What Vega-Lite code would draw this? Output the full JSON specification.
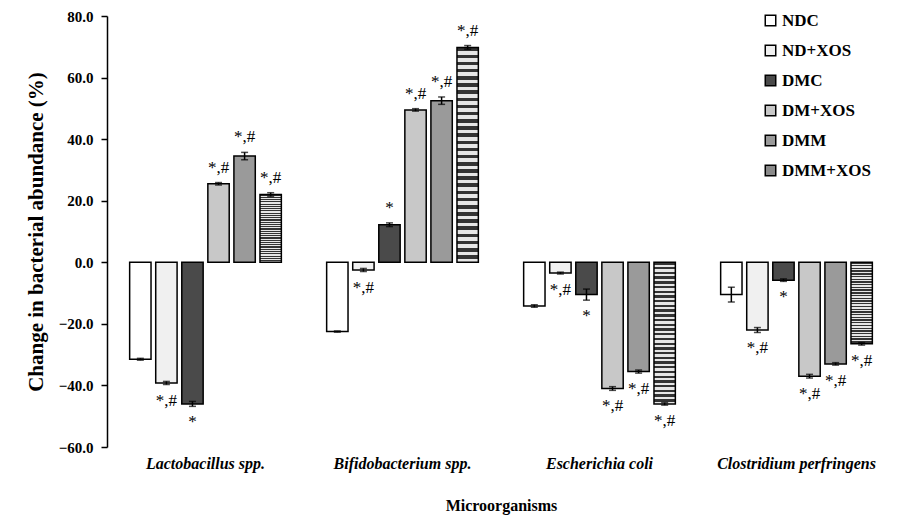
{
  "$schema": "https://vega.github.io/schema/vega-lite/v6.json",
  "width": 788,
  "height": 431,
  "autosize": {"type": "none"},
  "padding": {"left": 107, "top": 16, "right": 4, "bottom": 72},
  "background": "white",
  "config": {"view": {"stroke": null}, "font": "Times New Roman, Liberation Serif, serif"},
  "data": {"values": [
    {"cat": "Lactobacillus spp.", "grp": "NDC", "v": -31.5, "lo": -31.8, "hi": -31.2, "sig": ""},
    {"cat": "Lactobacillus spp.", "grp": "ND+XOS", "v": -39.2, "lo": -39.7, "hi": -38.7, "sig": "*,#"},
    {"cat": "Lactobacillus spp.", "grp": "DMC", "v": -46.0, "lo": -46.8, "hi": -45.2, "sig": "*"},
    {"cat": "Lactobacillus spp.", "grp": "DM+XOS", "v": 25.5, "lo": 25.1, "hi": 25.9, "sig": "*,#"},
    {"cat": "Lactobacillus spp.", "grp": "DMM", "v": 34.5, "lo": 33.3, "hi": 35.7, "sig": "*,#"},
    {"cat": "Lactobacillus spp.", "grp": "DMM+XOS", "v": 22.0, "lo": 21.4, "hi": 22.6, "sig": "*,#"},
    {"cat": "Bifidobacterium spp.", "grp": "NDC", "v": -22.5, "lo": -22.7, "hi": -22.3, "sig": ""},
    {"cat": "Bifidobacterium spp.", "grp": "ND+XOS", "v": -2.5, "lo": -3.0, "hi": -2.0, "sig": "*,#"},
    {"cat": "Bifidobacterium spp.", "grp": "DMC", "v": 12.2, "lo": 11.6, "hi": 12.8, "sig": "*"},
    {"cat": "Bifidobacterium spp.", "grp": "DM+XOS", "v": 49.5, "lo": 49.1, "hi": 49.9, "sig": "*,#"},
    {"cat": "Bifidobacterium spp.", "grp": "DMM", "v": 52.5, "lo": 51.3, "hi": 53.7, "sig": "*,#"},
    {"cat": "Bifidobacterium spp.", "grp": "DMM+XOS", "v": 69.8, "lo": 69.2, "hi": 70.4, "sig": "*,#"},
    {"cat": "Escherichia coli", "grp": "NDC", "v": -14.2, "lo": -14.6, "hi": -13.8, "sig": ""},
    {"cat": "Escherichia coli", "grp": "ND+XOS", "v": -3.5, "lo": -3.8, "hi": -3.2, "sig": "*,#"},
    {"cat": "Escherichia coli", "grp": "DMC", "v": -10.5, "lo": -12.3, "hi": -8.7, "sig": "*"},
    {"cat": "Escherichia coli", "grp": "DM+XOS", "v": -41.0, "lo": -41.6, "hi": -40.4, "sig": "*,#"},
    {"cat": "Escherichia coli", "grp": "DMM", "v": -35.5, "lo": -36.0, "hi": -35.0, "sig": "*,#"},
    {"cat": "Escherichia coli", "grp": "DMM+XOS", "v": -46.0, "lo": -46.4, "hi": -45.6, "sig": "*,#"},
    {"cat": "Clostridium perfringens", "grp": "NDC", "v": -10.5, "lo": -12.9, "hi": -8.1, "sig": ""},
    {"cat": "Clostridium perfringens", "grp": "ND+XOS", "v": -22.0, "lo": -22.8, "hi": -21.2, "sig": "*,#"},
    {"cat": "Clostridium perfringens", "grp": "DMC", "v": -5.8, "lo": -6.2, "hi": -5.4, "sig": "*"},
    {"cat": "Clostridium perfringens", "grp": "DM+XOS", "v": -37.0, "lo": -37.6, "hi": -36.4, "sig": "*,#"},
    {"cat": "Clostridium perfringens", "grp": "DMM", "v": -33.0, "lo": -33.4, "hi": -32.6, "sig": "*,#"},
    {"cat": "Clostridium perfringens", "grp": "DMM+XOS", "v": -26.5, "lo": -26.9, "hi": -26.1, "sig": "*,#"}
  ]},
  "encoding": {
    "x": {
      "field": "cat", "type": "nominal", "sort": null,
      "scale": {"paddingInner": 0.23, "paddingOuter": 0.115},
      "axis": {
        "title": "Microorganisms", "domain": false, "ticks": false, "labelAngle": 0,
        "labelFont": "Times New Roman, Liberation Serif, serif", "labelFontSize": 16, "labelFontWeight": "bold", "labelFontStyle": "italic",
        "labelColor": "black", "labelPadding": 8,
        "titleFont": "Times New Roman, Liberation Serif, serif", "titleFontSize": 16, "titleFontWeight": "bold", "titleColor": "black", "titlePadding": 26
      }
    },
    "xOffset": {
      "field": "grp", "type": "nominal", "sort": ["NDC", "ND+XOS", "DMC", "DM+XOS", "DMM", "DMM+XOS"],
      "scale": {"paddingInner": 0.18}
    }
  },
  "layer": [
    {
      "mark": {"type": "bar", "stroke": "black", "strokeWidth": 1.5},
      "encoding": {
        "y": {
          "field": "v", "type": "quantitative",
          "scale": {"domain": [-60, 80], "nice": false, "zero": false},
          "axis": {
            "title": "Change in bacterial abundance (%)", "values": [-60, -40, -20, 0, 20, 40, 60, 80],
            "format": ".1f", "grid": false, "domainColor": "black", "domainWidth": 1.5,
            "tickColor": "black", "tickWidth": 1.5, "tickSize": 6,
            "labelFont": "Times New Roman, Liberation Serif, serif", "labelFontSize": 15, "labelFontWeight": "bold", "labelColor": "black", "labelPadding": 8,
            "titleFont": "Times New Roman, Liberation Serif, serif", "titleFontSize": 21, "titleFontWeight": "bold", "titleColor": "black", "titlePadding": 12
          }
        },
        "fill": {
          "field": "grp", "type": "nominal", "sort": ["NDC", "ND+XOS", "DMC", "DM+XOS", "DMM", "DMM+XOS"],
          "scale": {"domain": ["NDC", "ND+XOS", "DMC", "DM+XOS", "DMM", "DMM+XOS"],
                    "range": ["#ffffff", "#f0f0f0", "#4a4a4a", "#c8c8c8", "#9a9a9a", "#8a8a8a"]},
          "condition": {"test": "datum.grp === 'DMM+XOS'", "value":
                      {"gradient": "linear", "x1": 0, "y1": 0, "x2": 0, "y2": 1, "stops": [
                        {"offset": 0, "color": "#333333"}, {"offset": 0.0167, "color": "#333333"}, {"offset": 0.0167, "color": "#e6e6e6"}, {"offset": 0.0333, "color": "#e6e6e6"},
                        {"offset": 0.0333, "color": "#333333"}, {"offset": 0.05, "color": "#333333"}, {"offset": 0.05, "color": "#e6e6e6"}, {"offset": 0.0667, "color": "#e6e6e6"},
                        {"offset": 0.0667, "color": "#333333"}, {"offset": 0.0833, "color": "#333333"}, {"offset": 0.0833, "color": "#e6e6e6"}, {"offset": 0.1, "color": "#e6e6e6"},
                        {"offset": 0.1, "color": "#333333"}, {"offset": 0.1167, "color": "#333333"}, {"offset": 0.1167, "color": "#e6e6e6"}, {"offset": 0.1333, "color": "#e6e6e6"},
                        {"offset": 0.1333, "color": "#333333"}, {"offset": 0.15, "color": "#333333"}, {"offset": 0.15, "color": "#e6e6e6"}, {"offset": 0.1667, "color": "#e6e6e6"},
                        {"offset": 0.1667, "color": "#333333"}, {"offset": 0.1833, "color": "#333333"}, {"offset": 0.1833, "color": "#e6e6e6"}, {"offset": 0.2, "color": "#e6e6e6"},
                        {"offset": 0.2, "color": "#333333"}, {"offset": 0.2167, "color": "#333333"}, {"offset": 0.2167, "color": "#e6e6e6"}, {"offset": 0.2333, "color": "#e6e6e6"},
                        {"offset": 0.2333, "color": "#333333"}, {"offset": 0.25, "color": "#333333"}, {"offset": 0.25, "color": "#e6e6e6"}, {"offset": 0.2667, "color": "#e6e6e6"},
                        {"offset": 0.2667, "color": "#333333"}, {"offset": 0.2833, "color": "#333333"}, {"offset": 0.2833, "color": "#e6e6e6"}, {"offset": 0.3, "color": "#e6e6e6"},
                        {"offset": 0.3, "color": "#333333"}, {"offset": 0.3167, "color": "#333333"}, {"offset": 0.3167, "color": "#e6e6e6"}, {"offset": 0.3333, "color": "#e6e6e6"},
                        {"offset": 0.3333, "color": "#333333"}, {"offset": 0.35, "color": "#333333"}, {"offset": 0.35, "color": "#e6e6e6"}, {"offset": 0.3667, "color": "#e6e6e6"},
                        {"offset": 0.3667, "color": "#333333"}, {"offset": 0.3833, "color": "#333333"}, {"offset": 0.3833, "color": "#e6e6e6"}, {"offset": 0.4, "color": "#e6e6e6"},
                        {"offset": 0.4, "color": "#333333"}, {"offset": 0.4167, "color": "#333333"}, {"offset": 0.4167, "color": "#e6e6e6"}, {"offset": 0.4333, "color": "#e6e6e6"},
                        {"offset": 0.4333, "color": "#333333"}, {"offset": 0.45, "color": "#333333"}, {"offset": 0.45, "color": "#e6e6e6"}, {"offset": 0.4667, "color": "#e6e6e6"},
                        {"offset": 0.4667, "color": "#333333"}, {"offset": 0.4833, "color": "#333333"}, {"offset": 0.4833, "color": "#e6e6e6"}, {"offset": 0.5, "color": "#e6e6e6"},
                        {"offset": 0.5, "color": "#333333"}, {"offset": 0.5167, "color": "#333333"}, {"offset": 0.5167, "color": "#e6e6e6"}, {"offset": 0.5333, "color": "#e6e6e6"},
                        {"offset": 0.5333, "color": "#333333"}, {"offset": 0.55, "color": "#333333"}, {"offset": 0.55, "color": "#e6e6e6"}, {"offset": 0.5667, "color": "#e6e6e6"},
                        {"offset": 0.5667, "color": "#333333"}, {"offset": 0.5833, "color": "#333333"}, {"offset": 0.5833, "color": "#e6e6e6"}, {"offset": 0.6, "color": "#e6e6e6"},
                        {"offset": 0.6, "color": "#333333"}, {"offset": 0.6167, "color": "#333333"}, {"offset": 0.6167, "color": "#e6e6e6"}, {"offset": 0.6333, "color": "#e6e6e6"},
                        {"offset": 0.6333, "color": "#333333"}, {"offset": 0.65, "color": "#333333"}, {"offset": 0.65, "color": "#e6e6e6"}, {"offset": 0.6667, "color": "#e6e6e6"},
                        {"offset": 0.6667, "color": "#333333"}, {"offset": 0.6833, "color": "#333333"}, {"offset": 0.6833, "color": "#e6e6e6"}, {"offset": 0.7, "color": "#e6e6e6"},
                        {"offset": 0.7, "color": "#333333"}, {"offset": 0.7167, "color": "#333333"}, {"offset": 0.7167, "color": "#e6e6e6"}, {"offset": 0.7333, "color": "#e6e6e6"},
                        {"offset": 0.7333, "color": "#333333"}, {"offset": 0.75, "color": "#333333"}, {"offset": 0.75, "color": "#e6e6e6"}, {"offset": 0.7667, "color": "#e6e6e6"},
                        {"offset": 0.7667, "color": "#333333"}, {"offset": 0.7833, "color": "#333333"}, {"offset": 0.7833, "color": "#e6e6e6"}, {"offset": 0.8, "color": "#e6e6e6"},
                        {"offset": 0.8, "color": "#333333"}, {"offset": 0.8167, "color": "#333333"}, {"offset": 0.8167, "color": "#e6e6e6"}, {"offset": 0.8333, "color": "#e6e6e6"},
                        {"offset": 0.8333, "color": "#333333"}, {"offset": 0.85, "color": "#333333"}, {"offset": 0.85, "color": "#e6e6e6"}, {"offset": 0.8667, "color": "#e6e6e6"},
                        {"offset": 0.8667, "color": "#333333"}, {"offset": 0.8833, "color": "#333333"}, {"offset": 0.8833, "color": "#e6e6e6"}, {"offset": 0.9, "color": "#e6e6e6"},
                        {"offset": 0.9, "color": "#333333"}, {"offset": 0.9167, "color": "#333333"}, {"offset": 0.9167, "color": "#e6e6e6"}, {"offset": 0.9333, "color": "#e6e6e6"},
                        {"offset": 0.9333, "color": "#333333"}, {"offset": 0.95, "color": "#333333"}, {"offset": 0.95, "color": "#e6e6e6"}, {"offset": 0.9667, "color": "#e6e6e6"},
                        {"offset": 0.9667, "color": "#333333"}, {"offset": 0.9833, "color": "#333333"}, {"offset": 0.9833, "color": "#e6e6e6"}, {"offset": 1, "color": "#e6e6e6"}
                      ]}},
          "legend": {
            "title": null, "orient": "none", "legendX": 655, "legendY": -4,
            "symbolType": "square", "symbolSize": 110, "symbolStrokeColor": "black", "symbolStrokeWidth": 1.5,
            "labelFont": "Times New Roman, Liberation Serif, serif", "labelFontSize": 17, "labelFontWeight": "bold", "labelColor": "black",
            "rowPadding": 12, "labelOffset": 3
          }
        }
      }
    },
    {
      "mark": {"type": "rule", "color": "black", "strokeWidth": 1.5},
      "encoding": {"y": {"datum": 0, "type": "quantitative"}}
    },
    {
      "mark": {"type": "rule", "color": "black", "strokeWidth": 1.5},
      "encoding": {"y": {"field": "lo", "type": "quantitative"}, "y2": {"field": "hi"}}
    },
    {
      "mark": {"type": "tick", "color": "black", "size": 7, "thickness": 1.5, "orient": "horizontal"},
      "encoding": {"y": {"field": "lo", "type": "quantitative"}}
    },
    {
      "mark": {"type": "tick", "color": "black", "size": 7, "thickness": 1.5, "orient": "horizontal"},
      "encoding": {"y": {"field": "hi", "type": "quantitative"}}
    },
    {
      "transform": [{"filter": "datum.v > 0"}],
      "mark": {"type": "text", "baseline": "bottom", "dy": -6, "fontSize": 17, "font": "Times New Roman, Liberation Serif, serif", "color": "black"},
      "encoding": {"y": {"field": "hi", "type": "quantitative"}, "text": {"field": "sig"}}
    },
    {
      "transform": [{"filter": "datum.v < 0"}],
      "mark": {"type": "text", "baseline": "top", "dy": 8, "fontSize": 17, "font": "Times New Roman, Liberation Serif, serif", "color": "black"},
      "encoding": {"y": {"field": "lo", "type": "quantitative"}, "text": {"field": "sig"}}
    }
  ]
}
